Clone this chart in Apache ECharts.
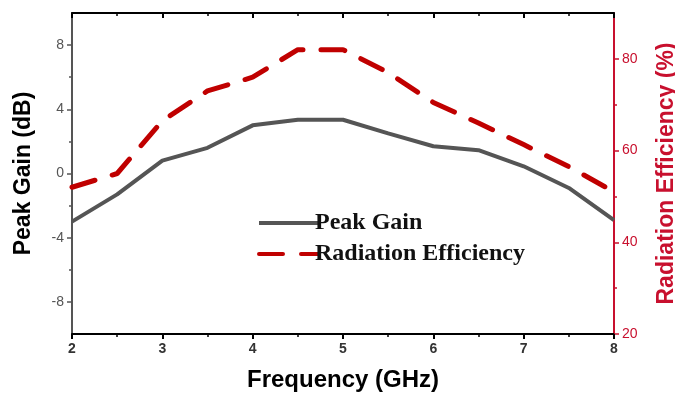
<!DOCTYPE html>
<html>
<head>
<meta charset="utf-8">
<script src="https://cdn.jsdelivr.net/npm/echarts@6/dist/echarts.min.js"></script>
<style>
  html, body { margin: 0; padding: 0; background: #fff; }
  #chart { width: 675px; height: 394px; }
</style>
</head>
<body>
<div id="chart"></div>
<script>
// frequency points (GHz)
const freq = [2, 2.5, 3, 3.5, 4, 4.5, 5, 5.5, 6, 6.5, 7, 7.5, 8];
// peak gain (dB)
const peakGain = [-3.0, -1.3, 0.8, 1.6, 3.0, 3.35, 3.35, 2.5, 1.7, 1.45, 0.45, -0.9, -2.9];
// radiation efficiency (%)
const radEff = [52, 55, 66.5, 73, 76, 82, 82, 77, 70.5, 66, 61.3, 56.5, 51];
// tick labels
const gainTicks = [-8, -4, 0, 4, 8];
const gainMinor = [-6, -2, 2, 6];
const effTicks = [20, 40, 60, 80];
const effMinor = [30, 50, 70];

const pairs = (ys) => freq.map((x, i) => [x, ys[i]]);

const chart = echarts.init(document.getElementById("chart"));
const axisFont = "Liberation Sans, Arial, sans-serif";
const red = "#c8102e";

const option = {
  animation: false,
  grid: { left: 72, right: 61, top: 13, bottom: 60, outerBoundsMode: "none", containLabel: false },
  legend: {
    left: 252,
    top: 206,
    orient: "vertical",
    itemWidth: 60,
    itemHeight: 14,
    itemGap: 7,
    itemStyle: { opacity: 0 },
    lineStyle: { width: 4 },
    textStyle: {
      fontFamily: "Liberation Serif, Times New Roman, serif",
      fontWeight: "bold",
      fontSize: 24,
      color: "#111",
      padding: [0, 0, 0, -9],
    },
    data: ["Peak Gain", "Radiation Efficiency"],
  },
  xAxis: [
    {
      type: "value",
      min: 2,
      max: 8,
      interval: 1,
      name: "Frequency (GHz)",
      nameLocation: "middle",
      nameGap: 34,
      nameTextStyle: { fontFamily: axisFont, fontWeight: "bold", fontSize: 24, color: "#000" },
      axisLine: { onZero: false, lineStyle: { color: "#000", width: 2 } },
      axisTick: { length: 5, lineStyle: { color: "#000", width: 2 } },
      minorTick: { show: true, splitNumber: 2, length: 3, lineStyle: { color: "#000", width: 1.5 } },
      axisLabel: { fontFamily: axisFont, fontWeight: "bold", fontSize: 14, color: "#333", margin: 8 },
      splitLine: { show: false },
    },
    {
      type: "value",
      position: "top",
      min: 2,
      max: 8,
      interval: 1,
      axisLine: { onZero: false, lineStyle: { color: "#000", width: 2 } },
      axisTick: { inside: true, length: 5, lineStyle: { color: "#000", width: 2 } },
      minorTick: { show: true, splitNumber: 2, length: 3, lineStyle: { color: "#000", width: 1.5 } },
      axisLabel: { show: false },
      splitLine: { show: false },
    },
  ],
  yAxis: [
    {
      type: "value",
      min: -10,
      max: 10,
      interval: 2,
      name: "Peak Gain (dB)",
      nameLocation: "middle",
      nameGap: 37,
      nameTextStyle: { fontFamily: axisFont, fontWeight: "bold", fontSize: 23, color: "#000" },
      axisLine: { show: true, onZero: false, lineStyle: { color: "#555", width: 2 } },
      axisTick: { show: true, customValues: gainTicks, length: 5, lineStyle: { color: "#555", width: 1.5 } },
      axisLabel: {
        customValues: gainTicks,
        fontFamily: axisFont,
        fontSize: 14,
        color: "#555",
        margin: 8,
      },
      splitLine: { show: false },
    },
    {
      type: "value",
      min: 20,
      max: 90,
      interval: 10,
      position: "right",
      name: "Radiation Efficiency (%)",
      nameLocation: "middle",
      nameGap: 41,
      nameTextStyle: { fontFamily: axisFont, fontWeight: "bold", fontSize: 23, color: red },
      axisLine: { show: true, onZero: false, lineStyle: { color: red, width: 2 } },
      axisTick: { show: true, customValues: effTicks, length: 5, lineStyle: { color: red, width: 1.5 } },
      axisLabel: { customValues: effTicks, fontFamily: axisFont, fontSize: 14, color: red, margin: 8 },
      splitLine: { show: false },
    },
    {
      // minor ticks for the gain axis
      type: "value",
      min: -10,
      max: 10,
      interval: 2,
      position: "left",
      axisLine: { show: false, onZero: false },
      axisTick: { show: true, customValues: gainMinor, length: 3, lineStyle: { color: "#555", width: 1.5 } },
      axisLabel: { show: false },
      splitLine: { show: false },
    },
    {
      // minor ticks for the efficiency axis
      type: "value",
      min: 20,
      max: 90,
      interval: 10,
      position: "right",
      axisLine: { show: false, onZero: false },
      axisTick: { show: true, customValues: effMinor, length: 3, lineStyle: { color: red, width: 1.5 } },
      axisLabel: { show: false },
      splitLine: { show: false },
    },
  ],
  series: [
    {
      name: "Peak Gain",
      type: "line",
      xAxisIndex: 0,
      yAxisIndex: 0,
      data: pairs(peakGain),
      symbol: "none",
      color: "#555",
      lineStyle: { color: "#555", width: 4 },
    },
    {
      name: "Radiation Efficiency",
      type: "line",
      xAxisIndex: 0,
      yAxisIndex: 1,
      data: pairs(radEff),
      symbol: "none",
      color: "#c00000",
      lineStyle: { color: "#c00000", width: 5, type: [24, 18], cap: "round" },
    },
  ],
};

chart.setOption(option);
</script>
</body>
</html>
